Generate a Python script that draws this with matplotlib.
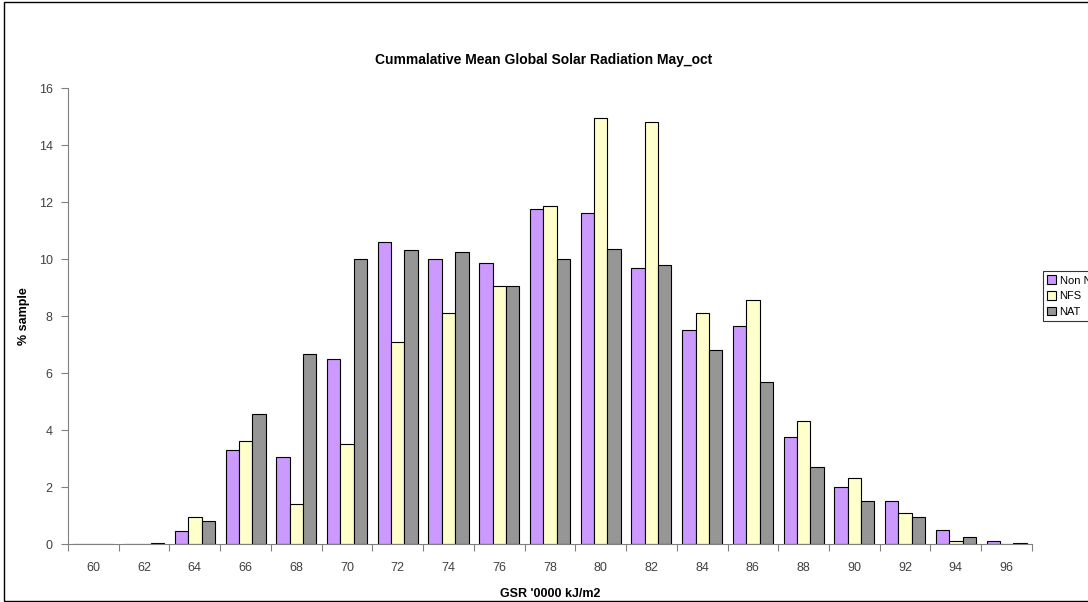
import numpy as np
import matplotlib.pyplot as plt
from matplotlib.patches import Rectangle

# ===============================
# DATA
# ===============================
categories = ["60", "62", "64", "66", "68", "70", "72", "74", "76", "78",
              "80", "82", "84", "86", "88", "90", "92", "94", "96"]

non_nfs = [0, 0, 0.45, 3.3, 3.05, 6.5, 10.6, 10.0, 9.85, 11.75,
           11.6, 9.7, 7.5, 7.65, 3.75, 2.0, 1.5, 0.5, 0.12]
nfs = [0, 0, 0.95, 3.6, 1.4, 3.5, 7.1, 8.1, 9.05, 11.85,
       14.95, 14.8, 8.1, 8.55, 4.3, 2.3, 1.1, 0.1, 0]
nat = [0, 0.05, 0.8, 4.55, 6.65, 10.0, 10.3, 10.25, 9.05, 10.0,
       10.35, 9.8, 6.8, 5.7, 2.7, 1.5, 0.95, 0.25, 0.05]

series_names = ["Non NFS", "NFS", "NAT"]
colors = ["#CC99FF", "#FFFFCC", "#969696"]

plt.rcParams['font.family'] = ['Liberation Sans', 'DejaVu Sans']

# ===============================
# PLOT
# ===============================
fig = plt.figure(figsize=(10.88, 6.02), dpi=100)
ax = fig.add_axes([0.0625, 0.0963, 0.886, 0.7575])

x = np.arange(len(categories))
w = 0.263
for k, (vals, name, c) in enumerate(zip([non_nfs, nfs, nat], series_names, colors)):
    ax.bar(x + (k - 1) * w, vals, width=w, color=c, edgecolor="black",
           linewidth=0.8, label=name)

ax.set_xlim(-0.5, len(categories) - 0.5)
ax.set_ylim(0, 16)
ax.set_yticks(np.arange(0, 17, 2))

# ticks at category boundaries, labels at centres
ax.set_xticks(np.arange(-0.5, len(categories), 1))
ax.set_xticklabels([])
ax.set_xticks(x, minor=True)
ax.set_xticklabels(categories, minor=True)
ax.tick_params(axis="x", which="major", length=5, color="#808080", direction="out")
ax.tick_params(axis="x", which="minor", length=0, pad=13, labelsize=9, labelcolor="#404040")
ax.tick_params(axis="y", length=5, color="#808080", labelsize=9, labelcolor="#404040", pad=6)

for s in ["top", "right"]:
    ax.spines[s].set_visible(False)
for s in ["left", "bottom"]:
    ax.spines[s].set_color("#808080")

ax.set_xlabel("GSR '0000 kJ/m2", fontsize=9, fontweight="bold", labelpad=10)
ax.set_ylabel("% sample", fontsize=9, fontweight="bold", labelpad=6)
fig.text(0.5, 0.9, "Cummalative Mean Global Solar Radiation May_oct",
         ha="center", va="center", fontsize=10, fontweight="bold")

# legend runs off the right edge, as in the original
leg = fig.legend(loc="center left", bbox_to_anchor=(0.9585, 0.508), frameon=True,
                 fancybox=False, edgecolor="black", fontsize=8, handlelength=0.8,
                 handleheight=0.8, handletextpad=0.3, borderpad=0.4, labelspacing=0.5,
                 borderaxespad=0)
leg.get_frame().set_linewidth(0.8)

# outer chart border
fig.patches.append(Rectangle((0.004, 0.002), 1.2, 0.995, transform=fig.transFigure,
                             fill=False, edgecolor="black", linewidth=1.0))

plt.savefig("out.png", dpi=100)
